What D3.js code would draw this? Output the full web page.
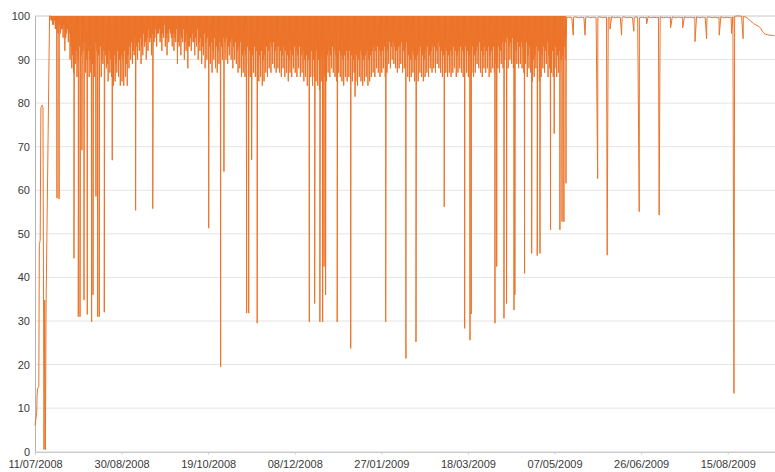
<!DOCTYPE html>
<html><head><meta charset="utf-8">
<script src="https://cdn.jsdelivr.net/npm/d3@7"></script>
<style>
html,body{margin:0;padding:0;background:#fff;}
svg{display:block;font-family:"Liberation Sans",Arial,sans-serif;}
</style></head>
<body>
<svg id="c" width="775" height="472"></svg>
<script>
// ---- DATA ----
const startDate = "11/07/2008";
const endDayOffset = 427.3;            // last visible day after start
const xTickLabels = ["11/07/2008","30/08/2008","19/10/2008","08/12/2008","27/01/2009","18/03/2009","07/05/2009","26/06/2009","15/08/2009"];
const yTickValues = [0,10,20,30,40,50,60,70,80,90,100];

// first days: [dayOffset, value]
const startRamp = [[0,6],[0.5,7.5],[1.0,9],[1.2,13],[1.6,14.5],[2.2,15],[2.5,47.5],[3.0,48.5],[3.4,79],[4.2,79.5],[4.6,79],[5.2,0.5],[5.6,34.8],[6.0,0.5],[6.4,34],[8.4,100]];

// busy period: daily high, deepest low and second low, days 9..306
const bandFirstDay = 9;
const bandHigh = 100;
const bandLow = [
 99,98,99,97,96,98,97,95,92,96,94,
 90,88,87,89,86,88,87,86,89,87,
 88,86,87,89,86,88,90,87,86,89,
 86,88,85,87,86,84,85,87,86,84,
 85,84,86,84,88,90,89,91,88,90,
 92,89,91,93,90,92,94,91,93,95,
 93,96,94,92,95,93,91,94,96,93,
 92,94,89,93,91,94,90,92,88,93,
 92,94,91,93,90,92,89,91,88,90,
 88,89,87,90,88,87,89,88,90,91,
 90,89,91,90,88,90,89,87,88,86,
 87,86,88,87,86,85,87,86,84,85,
 86,84,85,87,86,88,87,89,88,87,
 88,87,86,88,86,87,85,87,86,88,
 87,86,88,86,87,85,86,84,85,86,
 84,86,85,84,83,85,84,86,85,87,
 86,88,87,86,85,87,86,85,84,86,
 85,86,84,85,87,85,84,86,85,84,
 85,86,84,85,86,87,86,88,87,86,
 87,88,86,87,89,88,90,89,88,87,
 88,89,87,88,90,86,85,86,87,85,
 86,85,87,86,85,86,87,86,88,87,
 88,87,89,88,87,86,88,87,86,87,
 86,87,88,86,87,88,87,86,88,87,
 86,88,87,86,87,89,88,87,86,88,
 87,88,86,87,88,87,89,88,87,89,
 88,90,89,88,90,89,88,87,89,88,
 89,88,87,89,86,88,87,85,86,88,
 87,85,86,88,87,89,86,88,87,86,
 88,86,87,85,86,88,90
];
const bandLow2 = [
 99,98,97,99,98,96,97,98,95,97,96,
 93,91,94,92,90,93,91,92,94,90,
 92,90,93,91,94,92,91,93,90,92,
 91,89,92,90,93,91,89,92,90,91,
 90,92,89,91,93,94,92,95,93,94,
 95,93,96,94,95,97,95,96,94,97,
 96,97,95,96,98,95,96,97,95,96,
 95,97,94,96,95,97,94,96,93,95,
 96,94,95,97,94,95,93,96,94,95,
 93,94,92,95,93,92,94,93,95,94,
 95,93,94,95,93,94,92,93,94,91,
 92,91,93,92,90,91,93,92,90,91,
 92,90,91,93,92,94,93,94,92,93,
 93,92,91,93,92,91,90,92,91,93,
 92,91,93,91,92,90,91,90,91,92,
 90,91,92,90,89,91,90,92,91,92,
 91,93,92,91,90,92,91,90,91,92,
 90,92,91,90,92,91,90,92,91,90,
 91,92,90,91,92,93,92,93,92,91,
 92,93,91,92,94,93,94,93,92,93,
 93,94,92,93,94,91,90,92,91,90,
 91,92,93,91,90,92,93,91,92,93,
 93,92,94,93,92,91,93,92,91,92,
 91,93,92,91,92,93,92,91,93,92,
 91,92,93,91,92,93,94,92,91,93,
 92,93,91,92,93,92,94,93,92,94,
 93,94,95,93,94,95,93,92,94,93,
 94,93,92,94,91,93,92,90,91,93,
 92,90,91,93,92,94,91,93,92,91,
 93,91,92,90,91,93,94
];

// quiet period: daily level, days 307..427
const lateFirstDay = 307;
const lateLevel = [
 99.6,99.7,99.7,99.6,99.7,99.8,99.7,99.6,99.7,99.7,
 99.6,99.7,99.8,99.7,99.6,99.7,99.7,99.6,99.7,99.8,
 99.7,99.6,99.7,99.7,99.6,99.7,99.8,99.7,99.6,99.7,
 99.7,99.6,99.7,99.8,99.7,99.6,99.7,99.7,99.6,99.7,
 99.8,99.7,99.6,99.7,99.7,99.6,99.7,99.8,99.7,99.6,
 99.7,99.7,99.6,99.7,99.8,99.7,99.6,99.7,99.7,99.6,
 99.7,99.8,99.7,99.6,99.7,99.7,99.6,99.7,99.8,99.7,
 99.6,99.7,99.7,99.6,99.7,99.8,99.7,99.6,99.7,99.7,
 99.6,99.7,99.8,99.7,99.6,99.7,99.7,99.6,99.7,99.8,
 99.7,99.6,99.7,99.7,99.6,99.7,99.8,99.9,100,100,
 100,99.9,99.9,99.8,99.6,99.3,98.9,98.6,98.2,98.0,
 97.8,97.6,97.2,96.5,96.0,95.8,95.7,95.6,95.6,95.5,
 95.5
];

// deep dips: [dayOffset, value]
const dips = [
 [12.7,58.2],[13.9,58],
 [22.5,44.4],[25.0,31],[26.0,31],[27.1,69.2],[28.3,34.8],[30.2,31.5],[32.7,29.8],[33.5,36],
 [35.2,58.6],[36.2,31],[37.1,31],[40.0,32],[44.6,66.9],[58.1,55.4],[68.0,55.8],
 [100.3,51.3],[107.2,19.5],[109.1,64.3],[122.2,31.8],[123.4,31.8],[125.1,67],[128.3,29.5],
 [158.4,29.8],[161.5,34],[164.5,29.8],[166.1,29.8],[166.9,42.5],[167.8,36],[174.5,29.8],
 [182.3,23.7],[184.8,81.5],[202.5,29.8],[214.2,21.4],[220.0,25.2],[236.3,56.2],
 [248.1,28.3],[251.2,25.6],[251.9,31.6],[265.6,29.5],[266.6,42.5],[270.8,30.6],[272.3,34],
 [276.6,32.5],[277.1,36],[282.7,40.9],[286.8,45.5],[290.0,45],[291.6,45.5],[297.7,50.9],
 [299.8,73],[303.1,50.9],[304.3,52.8],[305.4,52.8],[306.6,61.6],
 [310.8,95.6],[317.6,95.6],[324.9,62.7],[330.4,45.1],[332.0,97],[338.7,95.6],[345.8,96.5],
 [348.9,55.1],[353.2,98.2],[360.4,54.3],[367.0,97.3],[374.0,97.3],[381.1,94.1],[387.8,94.8],
 [395.1,95.6],[402.2,96],[403.6,13.4],[408.9,94.8]
];

// ---- CHART ----
const plot = {left: 35, right: 775, top: 16, bottom: 451.7};
const parse = d3.timeParse("%d/%m/%Y");
const fmt = d3.timeFormat("%d/%m/%Y");
const t0 = parse(startDate);
const toDate = d => new Date(t0.getTime() + d * 864e5);

const x = d3.scaleTime().domain([t0, toDate(endDayOffset)]).range([plot.left, plot.right]);
const y = d3.scaleLinear().domain([0, 100]).range([plot.bottom, plot.top]);

// build the series
let pts = [];
startRamp.forEach(([d, v]) => pts.push([d, v]));
bandLow.forEach((lo, i) => {
  const d = bandFirstDay + i;
  pts.push([d, bandHigh]);
  pts.push([d + 0.25, lo]);
  pts.push([d + 0.5, bandHigh]);
  pts.push([d + 0.75, bandLow2[i]]);
});
lateLevel.forEach((v, i) => pts.push([lateFirstDay + i, v]));
dips.forEach(p => pts.push(p));
pts.sort((a, b) => a[0] - b[0]);

const svg = d3.select("#c");

// gridlines
svg.append("g")
  .selectAll("line").data(yTickValues.filter(v => v > 0)).join("line")
  .attr("x1", plot.left).attr("x2", plot.right)
  .attr("y1", d => y(d)).attr("y2", d => y(d))
  .attr("stroke", d => d === 100 ? "#c8c8c8" : "#e4e4e4").attr("stroke-width", 1);

// y axis
const yAxis = d3.axisLeft(y).tickValues(yTickValues).tickSize(0).tickPadding(5);
const gy = svg.append("g").attr("transform", `translate(${plot.left},0)`).call(yAxis);
gy.select(".domain").attr("stroke", "#b4b4b4");
gy.selectAll("text").attr("fill", "#3a3a3a").style("font-size", "11px");

// x axis
const xAxis = d3.axisBottom(x).tickValues(xTickLabels.map(parse)).tickFormat(fmt).tickSize(3).tickPadding(6);
const gx = svg.append("g").attr("transform", `translate(0,${plot.bottom})`).call(xAxis);
gx.select(".domain").attr("stroke", "#b4b4b4");
gx.selectAll(".tick line").attr("stroke", "#cfcfcf");
gx.selectAll("text").attr("fill", "#3a3a3a").style("font-size", "11px");

// line
const line = d3.line().x(p => x(toDate(p[0]))).y(p => y(p[1]));
svg.append("path").datum(pts)
  .attr("d", line)
  .attr("fill", "none")
  .attr("stroke", "#ec7328")
  .attr("stroke-width", 1)
  .attr("stroke-linejoin", "miter");
</script>
</body></html>
